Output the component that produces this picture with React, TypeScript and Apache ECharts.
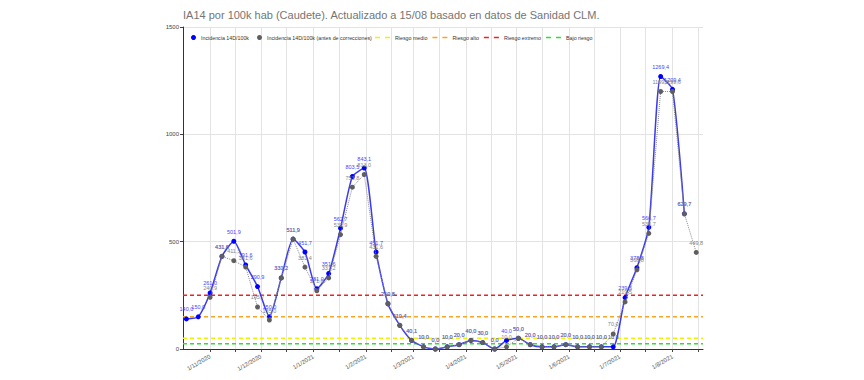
import React, { useEffect, useRef } from 'react';
import * as echarts from 'echarts';

const TITLE = 'IA14 por 100k hab (Caudete). Actualizado a 15/08 basado en datos de Sanidad CLM.';
const SERIES_MAIN = 'Incidencia 14D/100k';
const SERIES_OLD = 'Incidencia 14D/100k (antes de correcciones)';

// weekly points, first one on 18/10/2020
const FIRST_DAY = [2020, 10, 18];
const incidencia: (number | null)[] = [
  140.0, 150.0, 261.0, 431.6, 501.9, 391.6, 290.9, 150.0, 331.2, 511.9,
  451.7, 281.0, 351.6, 562.7, 803.5, 843.1, 451.7, 210.8, 110.4, 40.1,
  10.0, 0.0, 10.0, 20.0, 40.0, 30.0, 0.0, 40.0, 50.0, 20.0,
  10.0, 10.0, 20.0, 10.0, 10.0, 10.0, 10.0, 239.5, 378.8, 566.7,
  1269.4, 1209.4, 629.7, null,
];
const antesCorrecciones: (number | null)[] = [
  null, null, 240.9, 431.6, 411.5, 381.6, 195.7, 135.0, 331.2, 511.9,
  381.4, 271.0, 331.2, 532.9, 753.8, 813.0, 431.6, 210.8, 110.4, 40.1,
  10.0, 0.0, 10.0, 20.0, 40.0, 30.0, 0.0, 10.0, 50.0, 20.0,
  10.0, 10.0, 20.0, 10.0, 10.0, 10.0, 70.0, 219.5, 368.8, 538.7,
  1199.6, 1199.6, 629.7, 449.8,
];

const riskNames = ['Riesgo medio', 'Riesgo alto', 'Riesgo extremo', 'Bajo riesgo'];
const riskValues = [50, 150, 250, 25];
const riskColors = ['#f2f200', '#f5a623', '#ee2222', '#33dd33'];

const yTicks = [0, 500, 1000, 1500];

const AXIS_MIN = new Date(2020, 9, 16).getTime();
const AXIS_MAX = new Date(2021, 7, 19).getTime();

const dates = incidencia.map((_, i) => new Date(FIRST_DAY[0], FIRST_DAY[1] - 1, FIRST_DAY[2] + 7 * i).getTime());

// month starts (labels) and half-month ticks
const labelDates: number[] = [];
const tickDates: number[] = [];
for (let k = 0; k < 10; k++) {
  const m1 = new Date(2020, 10 + k, 1).getTime();
  const m16 = new Date(2020, 10 + k, 16).getTime();
  labelDates.push(m1);
  tickDates.push(m1);
  if (m16 < AXIS_MAX) tickDates.push(m16);
}

const fmt = (v: number) => v.toFixed(1).replace('.', ',');
const FONT = 'Arial, "Liberation Sans", sans-serif';
const DASH_ICON = 'path://M0,0H5V1.5H0Z M10,0H15V1.5H10Z';

export default function App() {
  const ref = useRef<HTMLDivElement>(null);
  useEffect(() => {
    if (!ref.current) return;
    const chart = echarts.init(ref.current, undefined, { renderer: 'svg' });
    const riskSeries = riskNames.map((name, i) => ({
      name,
      type: 'line',
      data: [[AXIS_MIN, riskValues[i]], [AXIS_MAX, riskValues[i]]],
      symbol: 'none',
      silent: true,
      z: 1,
      lineStyle: { color: riskColors[i], width: 1.5, type: [4, 3] },
      itemStyle: { color: riskColors[i] },
    }));
    const option: any = {
      animation: false,
      backgroundColor: '#ffffff',
      textStyle: { fontFamily: FONT },
      title: {
        text: TITLE,
        left: 183,
        top: 9,
        padding: 0,
        textStyle: { fontSize: 11, fontWeight: 'normal', color: '#757575', fontFamily: FONT },
      },
      legend: [
        {
          left: 191,
          top: 35,
          padding: 0,
          itemWidth: 5,
          itemHeight: 5,
          itemGap: 8,
          data: [
            { name: SERIES_MAIN, icon: 'circle' },
            { name: SERIES_OLD, icon: 'circle' },
          ],
          textStyle: { fontSize: 5.3, color: '#333', fontFamily: FONT },
        },
        {
          left: 375,
          top: 35,
          padding: 0,
          itemWidth: 15,
          itemHeight: 5,
          itemGap: 5,
          data: riskNames.map((name) => ({ name, icon: DASH_ICON })),
          textStyle: { fontSize: 5.3, color: '#333', fontFamily: FONT },
        },
      ],
      grid: { left: 183, right: 161, top: 27, bottom: 31, containLabel: false, outerBoundsMode: 'none' },
      xAxis: {
        type: 'value',
        min: AXIS_MIN,
        max: AXIS_MAX,
        axisLine: { show: true, lineStyle: { color: '#333', width: 1 } },
        axisTick: { show: true, customValues: tickDates, length: 3, lineStyle: { color: '#444' } },
        axisLabel: {
          customValues: labelDates,
          rotate: 30,
          fontSize: 6,
          color: '#555',
          margin: 7,
          formatter: (v: number) => {
            const d = new Date(v);
            return `${d.getDate()}/${d.getMonth() + 1}/${d.getFullYear()}`;
          },
        },
        splitLine: { show: true, lineStyle: { color: '#e3e3e3', width: 1 } },
      },
      yAxis: {
        type: 'value',
        min: yTicks[0],
        max: yTicks[yTicks.length - 1],
        interval: 500,
        axisLine: { show: true, lineStyle: { color: '#333', width: 1 } },
        axisTick: { show: true, length: 3, lineStyle: { color: '#444' } },
        axisLabel: { fontSize: 6, color: '#444', margin: 4, formatter: (v: number) => String(v) },
        splitLine: { show: true, lineStyle: { color: '#e3e3e3', width: 1 } },
      },
      series: [
        ...riskSeries,
        {
          name: SERIES_MAIN,
          type: 'line',
          data: dates.map((d, i) => [d, incidencia[i]]),
          smooth: 0.2,
          symbol: 'circle',
          symbolSize: 5,
          z: 3,
          lineStyle: { color: '#3a3aee', width: 1.5 },
          itemStyle: { color: '#0000ff' },
          label: {
            show: true,
            position: 'top',
            distance: 4,
            fontSize: 5.5,
            color: '#4545ff',
            formatter: (p: any) => (p.value[1] == null ? '' : fmt(p.value[1])),
          },
        },
        {
          name: SERIES_OLD,
          type: 'line',
          data: dates.map((d, i) => [d, antesCorrecciones[i]]),
          symbol: 'circle',
          symbolSize: 5,
          z: 4,
          lineStyle: { color: '#8a8a8a', width: 1, type: 'dotted' },
          itemStyle: { color: '#5f5f5f' },
          label: {
            show: true,
            position: 'top',
            distance: 4,
            fontSize: 5.5,
            color: '#858585',
            formatter: (p: any) => (p.value[1] == null ? '' : fmt(p.value[1])),
          },
        },
      ],
    };
    chart.setOption(option);
    return () => chart.dispose();
  }, []);
  return (
    <div
      ref={ref}
      style={{ position: 'fixed', left: 0, top: 0, width: 864, height: 380, background: '#fff' }}
    />
  );
}
